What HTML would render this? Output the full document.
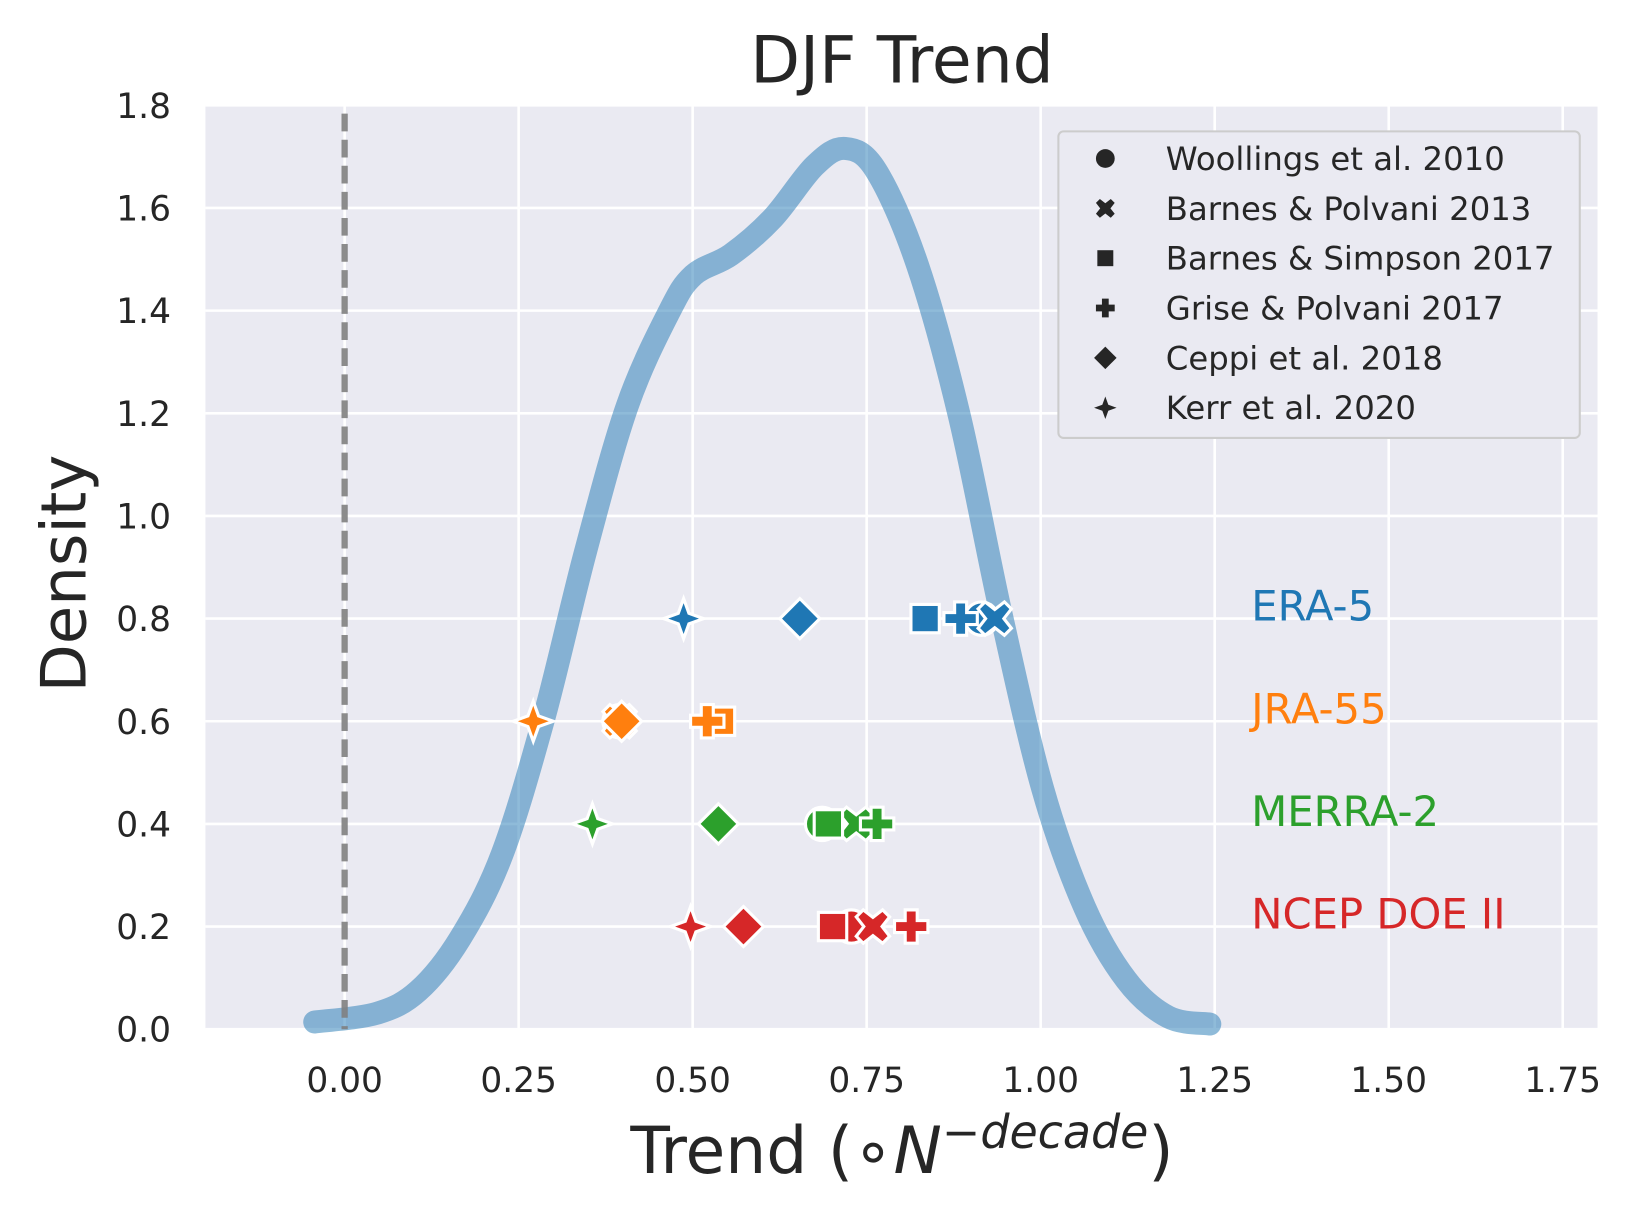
<!DOCTYPE html>
<html><head><meta charset="utf-8"><style>
body{margin:0;background:#fff}
svg text{font-family:"DejaVu Sans","Liberation Sans",sans-serif;fill:#262626}
</style></head><body>
<svg id="chart" width="1634" height="1219" viewBox="0 0 1567 1169" preserveAspectRatio="none" xmlns="http://www.w3.org/2000/svg">
<rect x="197" y="101" width="1335" height="886" fill="#eaeaf2"/>
<g id="grid"></g>
<g id="kde"></g>
<line id="zline" stroke="#808080" stroke-opacity="0.9" stroke-width="6" stroke-dasharray="17,8"/>
<g id="marks"></g>
<g id="ticks"></g>
<text x="865" y="79" font-size="62" text-anchor="middle">DJF Trend</text>
<text transform="translate(82,550) rotate(-90)" font-size="60" text-anchor="middle">Density</text>
<text x="865" y="1125" font-size="62" text-anchor="middle">Trend (∘<tspan font-style="italic">N</tspan><tspan dy="-24" font-size="44">−<tspan font-style="italic">decade</tspan></tspan><tspan dy="24">)</tspan></text>
<g id="legend">
<rect x="1015" y="126" width="500" height="294" rx="5" fill="#eaeaf2" stroke="#cccccc" stroke-width="2"/>
</g>
<g id="labels"></g>
</svg>
<script>
const xTicks=[0,0.25,0.5,0.75,1.0,1.25,1.5,1.75];
const xTickLabels=["0.00","0.25","0.50","0.75","1.00","1.25","1.50","1.75"];
const yTicks=[0,0.2,0.4,0.6,0.8,1.0,1.2,1.4,1.6,1.8];
const yTickLabels=["0.0","0.2","0.4","0.6","0.8","1.0","1.2","1.4","1.6","1.8"];
const kdeX=[-0.043,0.046,0.106,0.166,0.226,0.286,0.346,0.406,0.466,0.501,0.555,0.615,0.675,0.719,0.764,0.823,0.883,0.943,1.003,1.063,1.123,1.183,1.243];
const kdeY=[0.014,0.031,0.075,0.177,0.340,0.605,0.930,1.214,1.397,1.469,1.509,1.580,1.682,1.716,1.672,1.489,1.196,0.810,0.468,0.238,0.096,0.024,0.010];
const datasets=["ERA-5","JRA-55","MERRA-2","NCEP DOE II"];
const datasetY=[0.8,0.6,0.4,0.2];
const studies=["Woollings et al. 2010","Barnes & Polvani 2013","Barnes & Simpson 2017","Grise & Polvani 2017","Ceppi et al. 2018","Kerr et al. 2020"];
const trendsERA5=[0.915,0.934,0.834,0.885,0.654,0.487];
const trendsJRA55=[0.395,0.395,0.540,0.521,0.398,0.271];
const trendsMERRA2=[0.686,0.735,0.695,0.765,0.537,0.356];
const trendsNCEP=[0.728,0.759,0.701,0.814,0.573,0.497];
const colors=["#1f77b4","#ff7f0e","#2ca02c","#d62728"];
const shapes=["circle","x","square","plus","diamond","star"];

const NS="http://www.w3.org/2000/svg";
const X0=197,X1=1532,Y0=987,Y1=101;
const xs=v=>X0+(v+0.2)/2.0*(X1-X0);
const ys=v=>Y0-v/1.8*(Y0-Y1);
function mk(t,a,p){const e=document.createElementNS(NS,t);for(const k in a)e.setAttribute(k,a[k]);(p||document.getElementById('chart')).appendChild(e);return e;}
const grid=document.getElementById('grid'),ticks=document.getElementById('ticks');
xTicks.forEach((v,i)=>{
 const l=mk('line',{x1:xs(v),x2:xs(v),y1:Y1,y2:Y0,stroke:'#fff','stroke-width':2.5},grid);
 
 
 const t=mk('text',{x:xs(v),y:1047,'font-size':33,'text-anchor':'middle'},ticks);
 
 
 t.textContent=xTickLabels[i];
});
yTicks.forEach((v,i)=>{
 const l=mk('line',{x1:X0,x2:X1,y1:ys(v),y2:ys(v),stroke:'#fff','stroke-width':2.5},grid);
 
 
 const t=mk('text',{x:164,y:ys(v)+12,'font-size':33,'text-anchor':'end'},ticks);
 
 
 t.textContent=yTickLabels[i];
});
const P=kdeX.map((v,i)=>[xs(v),ys(kdeY[i])]);
let d='M'+P[0][0]+','+P[0][1];
for(let i=0;i<P.length-1;i++){const p0=P[Math.max(i-1,0)],p1=P[i],p2=P[i+1],p3=P[Math.min(i+2,P.length-1)];
 d+=` C${p1[0]+(p2[0]-p0[0])/6},${p1[1]+(p2[1]-p0[1])/6} ${p2[0]-(p3[0]-p1[0])/6},${p2[1]-(p3[1]-p1[1])/6} ${p2[0]},${p2[1]}`;}
const kde=mk('path',{d:d,fill:'none',stroke:'#1f77b4','stroke-opacity':0.5,'stroke-width':22,'stroke-linecap':'round'},document.getElementById('kde'));


const zl=document.getElementById('zline');
zl.setAttribute('x1',xs(0));zl.setAttribute('x2',xs(0));zl.setAttribute('y1',Y1+8);zl.setAttribute('y2',Y0);

function shape(s,cx,cy,r,fill,parent,sw){
 const a={fill:fill,stroke:'#fff','stroke-width':sw};let e;
 if(s==='circle'){a.cx=cx;a.cy=cy;a.r=r;e=mk('circle',a,parent);}
 else if(s==='square'){a.x=cx-r*0.85;a.y=cy-r*0.85;a.width=r*1.7;a.height=r*1.7;e=mk('rect',a,parent);}
 else{let pts;
  if(s==='diamond')pts=[[0,-1.2],[1.2,0],[0,1.2],[-1.2,0]];
  else if(s==='plus'){const w=0.36;pts=[[-w,-1],[w,-1],[w,-w],[1,-w],[1,w],[w,w],[w,1],[-w,1],[-w,w],[-1,w],[-1,-w],[-w,-w]];}
  else if(s==='x'){const w=0.42,k=1;pts=[[0,-w*1.3],[k-w,-k],[k,-k+w],[w*1.3,0],[k,k-w],[k-w,k],[0,w*1.3],[-k+w,k],[-k,k-w],[-w*1.3,0],[-k,-k+w],[-k+w,-k]];}
  else {pts=[];for(let i=0;i<8;i++){const ang=i*Math.PI/4-Math.PI/2,rr=i%2?0.45:1.2;pts.push([rr*Math.cos(ang),rr*Math.sin(ang)]);}}
  a.points=pts.map(p=>(cx+p[0]*r)+','+(cy+p[1]*r)).join(' ');e=mk('polygon',a,parent);}
 return e;
}
const marks=document.getElementById('marks');
const allTrends=[trendsERA5,trendsJRA55,trendsMERRA2,trendsNCEP];
allTrends.forEach((arr,di)=>{
 arr.forEach((v,si)=>{
  const e=shape(shapes[si],xs(v),ys(datasetY[di]),16,colors[di],marks,3);
  
  
 });
 const t=mk('text',{x:1200,y:ys(datasetY[di])+2,'font-size':40,style:'fill:'+colors[di]},document.getElementById('labels'));
 
 
 t.textContent=datasets[di];
});
const lg=document.getElementById('legend');
studies.forEach((s,i)=>{
 const y=152+i*47.8;
 const e=shape(shapes[i],1060,y,9,'#262626',lg,0);
 
 
 const t=mk('text',{x:1118,y:y+11,'font-size':31},lg);
 
 
 t.textContent=s;
});
</script>
</body></html>
